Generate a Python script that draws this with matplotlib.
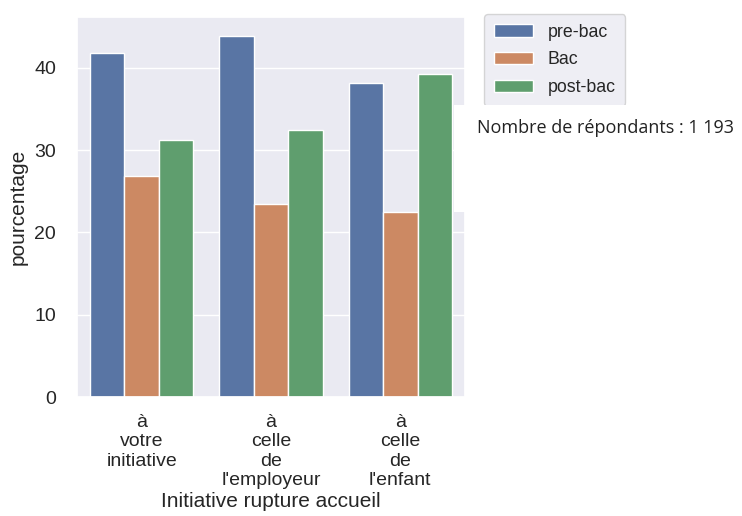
import numpy as np
import matplotlib
matplotlib.use('Agg')
import matplotlib.pyplot as plt
import seaborn as sns
from matplotlib.patches import Rectangle

# Data
categories = ['à\nvotre\ninitiative', 'à\ncelle\nde\nl\'employeur', 'à\ncelle\nde\nl\'enfant']
hues = ['pre-bac', 'Bac', 'post-bac']
pre_bac = [41.8, 43.9, 38.2]
bac = [26.9, 23.5, 22.5]
post_bac = [31.2, 32.5, 39.3]
colors = ['#5975a4', '#cc8963', '#5f9e6e']

sns.set_theme(style='darkgrid')
plt.rcParams['font.family'] = ['Liberation Sans', 'DejaVu Sans']

fig = plt.figure(figsize=(7.42, 5.16), dpi=100)
ax = fig.add_axes([77/742, 1 - 397/516, 388/742, 380/516])

x = np.arange(len(categories))
w = 0.8 / 3
for i, (name, vals) in enumerate(zip(hues, [pre_bac, bac, post_bac])):
    ax.bar(x + (i - 1) * w, vals, width=w, color=colors[i], edgecolor='white',
           linewidth=1, label=name, zorder=2)

ax.set_xlim(-0.5, 2.5)
ax.set_ylim(0, 46.2)
ax.set_yticks([0, 10, 20, 30, 40])
ax.set_xticks(x)
ax.set_xticklabels(categories, fontsize=14, color='#262626', linespacing=1.2)
ax.tick_params(axis='y', labelsize=14, colors='#262626', pad=9)
ax.tick_params(axis='x', pad=6)
ax.grid(False, axis='x')
ax.set_xlabel('Initiative rupture accueil', fontsize=15, color='#262626', labelpad=2)
ax.set_ylabel('pourcentage', fontsize=15, color='#262626', labelpad=5)

ax.legend(loc='upper left', bbox_to_anchor=(1.05, 1.008), fontsize=12.8,
          borderaxespad=0, handlelength=2.2, handletextpad=0.8,
          labelspacing=0.6, borderpad=0.55)

# white box behind the respondents note
fig.patches.append(Rectangle((454/742, 1 - 212/516), 288/742, 107/516,
                             transform=fig.transFigure, facecolor='white',
                             edgecolor='none', zorder=1))
fig.text(477/742, 1 - 128/516, 'Nombre de répondants : 1 193', fontsize=13,
         family=['Open Sans', 'DejaVu Sans'], color='#222222', va='center', zorder=11)

fig.savefig('out.png', dpi=100)
